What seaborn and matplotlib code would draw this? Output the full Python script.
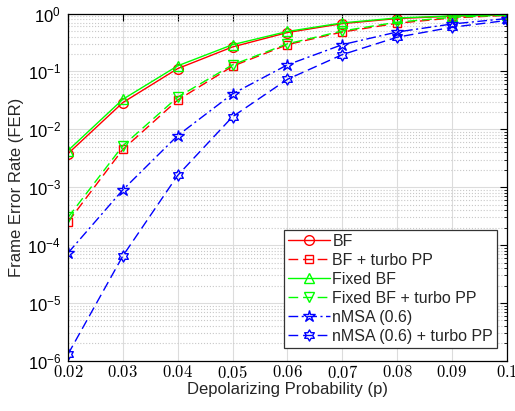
import numpy as np
import matplotlib
matplotlib.use("Agg")
import matplotlib.pyplot as plt
from matplotlib.path import Path
from matplotlib.ticker import LogLocator, FixedLocator, FuncFormatter, NullFormatter
import seaborn as sns

# --- Data ---
p = [0.02, 0.03, 0.04, 0.05, 0.06, 0.07, 0.08, 0.09, 0.10]
fer_bf = [3.8e-3, 2.9e-2, 0.112, 0.265, 0.47, 0.67, 0.82, 0.90, 0.95]
fer_bf_pp = [2.5e-4, 4.5e-3, 3.2e-2, 0.123, 0.29, 0.48, 0.68, 0.84, 0.93]
fer_fixed = [4.3e-3, 3.3e-2, 0.125, 0.29, 0.49, 0.69, 0.84, 0.91, 0.96]
fer_fixed_pp = [3.0e-4, 5.2e-3, 3.6e-2, 0.13, 0.30, 0.50, 0.71, 0.86, 0.94]
fer_nmsa = [7.3e-5, 9.0e-4, 7.8e-3, 4.1e-2, 0.13, 0.29, 0.48, 0.66, 0.82]
fer_nmsa_pp = [1.3e-6, 6.5e-5, 1.6e-3, 1.65e-2, 7.3e-2, 0.195, 0.39, 0.58, 0.76]

labels = ["BF", "BF + turbo PP", "Fixed BF", "Fixed BF + turbo PP",
          "nMSA (0.6)", "nMSA (0.6) + turbo PP"]

# hexagram marker (MATLAB style)
ang = np.pi / 2 + np.arange(12) * np.pi / 6
rad = np.where(np.arange(12) % 2 == 0, 1.0, 1 / np.sqrt(3))
verts = np.column_stack([rad * np.cos(ang), rad * np.sin(ang)])
verts = np.vstack([verts, verts[:1]])
hexagram = Path(verts, closed=True)

# --- Style ---
sns.set_style("white")
plt.rcParams["font.family"] = ["Liberation Sans", "DejaVu Sans"]
plt.rcParams["mathtext.fontset"] = "cm"

fig = plt.figure(figsize=(5.15, 4.11), dpi=100)
ax = fig.add_axes([0.132, 0.122, 0.852, 0.845])

dash = (0, (7, 3.5))
dashdot = (0, (7, 2.5, 1.5, 2.5))
series = [
    (fer_bf, (1, 0, 0), "-", "o", 7),
    (fer_bf_pp, (1, 0, 0), dash, "s", 6),
    (fer_fixed, (0, 1, 0), "-", "^", 7),
    (fer_fixed_pp, (0, 1, 0), dash, "v", 7),
    (fer_nmsa, (0, 0, 1), dashdot, "*", 9),
    (fer_nmsa_pp, (0, 0, 1), dash, hexagram, 8),
]

for (vals, col, ls, mk, ms), lab in zip(series, labels):
    sns.lineplot(x=p, y=vals, ax=ax, color=col, linestyle=ls, marker=mk,
                 markersize=ms, markerfacecolor="none", markeredgecolor=col,
                 markeredgewidth=1.0, linewidth=1.0, label=lab)

ax.set_yscale("log")
ax.set_xlim(0.02, 0.1)
ax.set_ylim(1e-6, 1)

ax.xaxis.set_major_locator(FixedLocator(p))
ax.xaxis.set_major_formatter(FuncFormatter(lambda v, pos: "$%g$" % round(v, 3)))
ax.yaxis.set_major_locator(LogLocator(base=10, numticks=10))
ax.yaxis.set_minor_locator(LogLocator(base=10, subs=np.arange(2, 10), numticks=20))
ax.yaxis.set_minor_formatter(NullFormatter())

ax.grid(True, which="major", color="#dcdcdc", linestyle="-", linewidth=0.8)
ax.grid(True, which="minor", axis="y", color="#c8c8c8", linestyle=":", linewidth=0.8)
ax.set_axisbelow(True)

for s in ax.spines.values():
    s.set_color("black")
    s.set_linewidth(0.9)

ax.tick_params(which="both", direction="in", top=True, right=True, colors="black")
ax.tick_params(which="major", length=5, labelsize=12)
ax.tick_params(axis="x", which="major", pad=2)
ax.tick_params(axis="y", which="major", pad=5)
ax.tick_params(which="minor", length=2.5)

ax.set_xlabel("Depolarizing Probability (p)", fontsize=12)
ax.set_ylabel("Frame Error Rate (FER)", fontsize=12)
ax.xaxis.set_label_coords(0.5, -0.06)
ax.yaxis.set_label_coords(-0.1, 0.5)

leg = ax.legend(loc="lower right", fontsize=11.5, handlelength=2.6,
                labelspacing=0.25, handletextpad=0.15, borderpad=0.25,
                borderaxespad=0.0, bbox_to_anchor=(0.978, 0.037),
                fancybox=False, framealpha=1)
leg.get_frame().set_edgecolor("#333333")
leg.get_frame().set_linewidth(0.9)

fig.savefig("out.png", dpi=100)
